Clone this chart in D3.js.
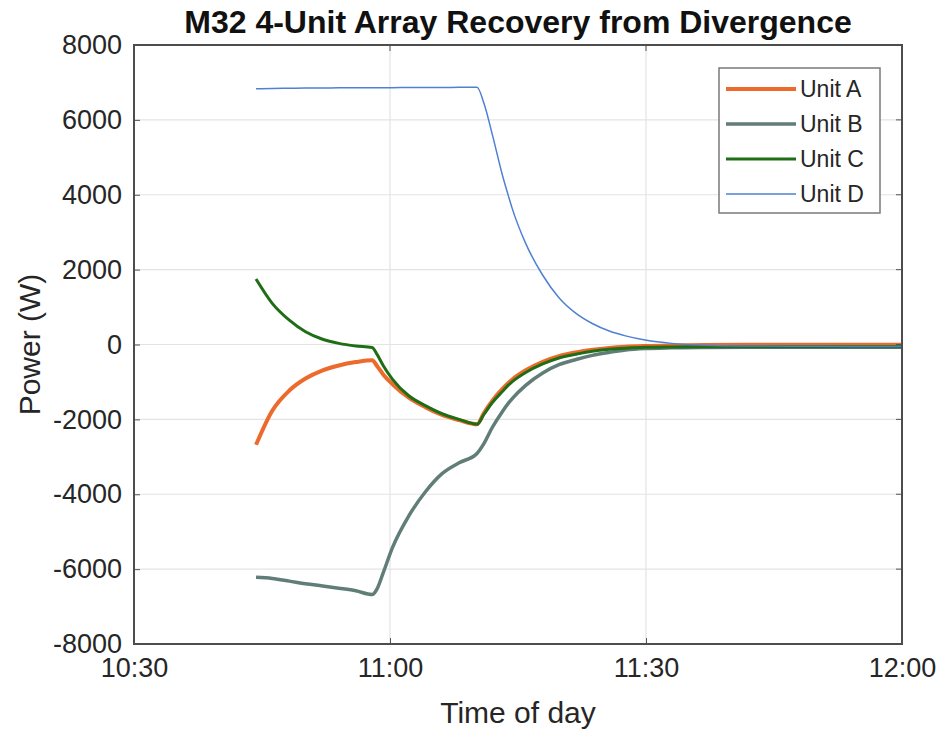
<!DOCTYPE html>
<html>
<head>
<meta charset="utf-8">
<script src="https://cdn.jsdelivr.net/npm/d3@7"></script>
<style>
  body { margin: 0; background: #fff; }
  svg { display: block; font-family: "Liberation Sans", Arial, sans-serif; }
</style>
</head>
<body>
<svg id="chart"></svg>
<script>
// sample times (clock) shared by all four units
const times = [
  "10:44:18", "10:46:12", "10:48:12", "10:50:06", "10:52:06", "10:54:00", "10:56:00", "10:57:54",
  "10:58:30", "10:59:12", "11:00:18", "11:02:12", "11:04:12", "11:06:06", "11:08:06", "11:10:12",
  "11:11:00", "11:12:00", "11:13:12", "11:13:54", "11:14:18", "11:15:54", "11:17:54", "11:19:48",
  "11:21:48", "11:23:42", "11:25:42", "11:27:36", "11:29:54", "11:33:00", "11:37:00", "11:42:00",
  "11:50:00", "12:00:00"
];

const unitA = [
  -2680, -1770, -1230, -910, -690, -560, -470, -420,
  -580, -800, -1060, -1420, -1680, -1880, -2020, -2130,
  -1830, -1500, -1180, -1020, -940, -690, -460, -310,
  -210, -140, -90, -60, -40, -25, -15, -10,
  -10, -10
];
const unitB = [
  -6220, -6250, -6320, -6390, -6450, -6510, -6580, -6680,
  -6520, -6100, -5420, -4580, -3920, -3450, -3160, -2910,
  -2650, -2210, -1780, -1560, -1450, -1090, -760, -540,
  -400, -290, -210, -150, -110, -90, -80, -75,
  -75, -75
];
const unitC = [
  1750, 1100, 650, 340, 140, 30, -40, -80,
  -270, -560, -930, -1370, -1640, -1850, -2000, -2130,
  -1870, -1550, -1250, -1080, -1000, -750, -520, -360,
  -260, -180, -130, -100, -75, -65, -60, -60,
  -60, -60
];
const unitD = [
  6830, 6840, 6845, 6850, 6850, 6855, 6855, 6860,
  6860, 6860, 6860, 6865, 6865, 6865, 6870, 6870,
  6450, 5600, 4500, 3950, 3650, 2700, 1850, 1250,
  830, 560, 360, 230, 120, 30, -20, -40,
  -50, -55
];

const seriesNames = ["Unit A", "Unit B", "Unit C", "Unit D"];
const yTicks = [-8000, -6000, -4000, -2000, 0, 2000, 4000, 6000, 8000];
const xTicks = ["10:30", "11:00", "11:30", "12:00"];

const width = 940, height = 736;
const margin = {top: 45, right: 38, bottom: 92, left: 134};

const svg = d3.select("#chart").attr("width", width).attr("height", height);

const parseTime = d3.timeParse("%H:%M:%S");
const parseTick = d3.timeParse("%H:%M");

const x = d3.scaleTime()
  .domain([parseTick("10:30"), parseTick("12:00")])
  .range([margin.left, width - margin.right]);
const y = d3.scaleLinear()
  .domain([-8000, 8000])
  .range([height - margin.bottom, margin.top]);

const t = times.map(parseTime);
const series = [
  {name: seriesNames[0], values: unitA, color: "#ec6a2c", w: 4},
  {name: seriesNames[1], values: unitB, color: "#617d78", w: 3.5},
  {name: seriesNames[2], values: unitC, color: "#1f6e16", w: 3},
  {name: seriesNames[3], values: unitD, color: "#4f80d4", w: 1.5}
];

// grid lines
const grid = svg.append("g");
grid.selectAll(".gx")
  .data(xTicks.map(parseTick))
  .enter().append("line")
  .attr("x1", d => x(d)).attr("x2", d => x(d))
  .attr("y1", y(8000)).attr("y2", y(-8000))
  .attr("stroke", "#e3e3e3").attr("stroke-width", 1.2);
grid.selectAll(".gy")
  .data(yTicks)
  .enter().append("line")
  .attr("x1", x.range()[0]).attr("x2", x.range()[1])
  .attr("y1", d => y(d)).attr("y2", d => y(d))
  .attr("stroke", "#e3e3e3").attr("stroke-width", 1.2);

// the lines
const line = d3.line()
  .x((d, i) => x(t[i]))
  .y(d => y(d))
  .curve(d3.curveMonotoneX);

svg.append("g").selectAll("path")
  .data(series)
  .enter().append("path")
  .attr("d", d => line(d.values))
  .attr("fill", "none")
  .attr("stroke", d => d.color)
  .attr("stroke-width", d => d.w)
  .attr("stroke-linejoin", "round");

// axes
const xAxis = d3.axisBottom(x)
  .tickValues(xTicks.map(parseTick))
  .tickFormat(d3.timeFormat("%H:%M"))
  .tickSizeInner(-6).tickSizeOuter(0).tickPadding(14);
const yAxis = d3.axisLeft(y)
  .tickValues(yTicks)
  .tickFormat(d => String(d))
  .tickSizeInner(-6).tickSizeOuter(0).tickPadding(12);

const gx = svg.append("g")
  .attr("transform", `translate(0,${height - margin.bottom})`)
  .call(xAxis);
const gy = svg.append("g")
  .attr("transform", `translate(${margin.left},0)`)
  .call(yAxis);

[gx, gy].forEach(g => {
  g.select(".domain").remove();
  g.selectAll("line").attr("stroke", "#555");
  g.selectAll("text")
    .attr("fill", "#262626")
    .style("font-size", "27px");
});

// top / right ticks (box on)
svg.append("g").selectAll("line")
  .data(xTicks.map(parseTick))
  .enter().append("line")
  .attr("x1", d => x(d)).attr("x2", d => x(d))
  .attr("y1", margin.top).attr("y2", margin.top + 6)
  .attr("stroke", "#555");
svg.append("g").selectAll("line")
  .data(yTicks)
  .enter().append("line")
  .attr("x1", width - margin.right).attr("x2", width - margin.right - 6)
  .attr("y1", d => y(d)).attr("y2", d => y(d))
  .attr("stroke", "#555");

svg.append("rect")
  .attr("x", margin.left).attr("y", margin.top)
  .attr("width", width - margin.left - margin.right)
  .attr("height", height - margin.top - margin.bottom)
  .attr("fill", "none")
  .attr("stroke", "#4d4d4d")
  .attr("stroke-width", 2);

// title and labels
svg.append("text")
  .attr("x", (margin.left + width - margin.right) / 2)
  .attr("y", 33)
  .attr("text-anchor", "middle")
  .style("font-size", "32px")
  .style("font-weight", "bold")
  .attr("fill", "#111")
  .text("M32 4-Unit Array Recovery from Divergence");

svg.append("text")
  .attr("x", (margin.left + width - margin.right) / 2)
  .attr("y", 723)
  .attr("text-anchor", "middle")
  .style("font-size", "30px")
  .attr("fill", "#262626")
  .text("Time of day");

svg.append("text")
  .attr("transform", `translate(40,${y(0)}) rotate(-90)`)
  .attr("text-anchor", "middle")
  .style("font-size", "30px")
  .attr("fill", "#262626")
  .text("Power (W)");

// legend
const legend = svg.append("g").attr("transform", "translate(719,68)");
legend.append("rect")
  .attr("width", 161).attr("height", 145)
  .attr("fill", "#fff")
  .attr("stroke", "#7a7a7a")
  .attr("stroke-width", 1.5);
const item = legend.selectAll(".item")
  .data(series)
  .enter().append("g")
  .attr("transform", (d, i) => `translate(0,${21 + i * 35})`);
item.append("line")
  .attr("x1", 7).attr("x2", 77)
  .attr("stroke", d => d.color)
  .attr("stroke-width", d => d.w);
item.append("text")
  .attr("x", 81).attr("y", 8)
  .style("font-size", "23px")
  .attr("fill", "#262626")
  .text(d => d.name);
</script>
</body>
</html>
